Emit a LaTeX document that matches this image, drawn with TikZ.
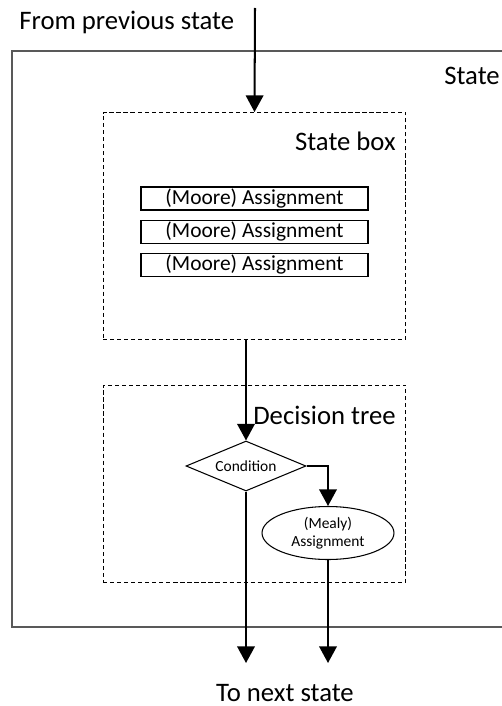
\documentclass[tikz,border=0pt]{standalone}
\usepackage{fontspec}
\setmainfont{Carlito}
\usetikzlibrary{arrows.meta, positioning, shapes.geometric}

\begin{document}
\begin{tikzpicture}[
  x=0.02cm, y=-0.02cm,
  node distance=0.18cm,
  flow/.style={-{Triangle[width=10pt, length=9.5pt]}, line width=1.15pt},
  outerbox/.style={draw=black!65, line width=1.1pt},
  group/.style={rectangle, draw, dashed, dash pattern=on 2.4pt off 1.6pt,
                line width=0.55pt, inner sep=0pt},
  abox/.style={rectangle, draw, line width=0.6pt, minimum width=4.54cm,
               minimum height=0.46cm, inner sep=0pt, font=\fontsize{12.2}{14}\selectfont},
  cond/.style={diamond, draw, aspect=2.4, line width=0.6pt, minimum width=2.4cm,
               minimum height=1cm, inner sep=0pt, font=\fontsize{8.8}{10}\selectfont},
  mealy/.style={ellipse, draw, line width=0.6pt, minimum width=2.64cm,
                minimum height=1.06cm, inner sep=0pt, align=center,
                font=\fontsize{8.8}{10.5}\selectfont},
  biglabel/.style={font=\fontsize{15.2}{18}\selectfont, inner sep=0pt},
]

\path[use as bounding box, clip] (0,0) rectangle (502,706);

% ---- frames ----
\draw[outerbox] (12,51) rectangle (560,627);
\node[biglabel, anchor=west] (statelbl) at (444,76) {State};

\node[group, minimum width=6.06cm, minimum height=4.54cm] (statebox) at (254.5,226) {};
\node[biglabel, anchor=east] (stateboxlbl) at (396,141) {State box};

\node[group, minimum width=6.06cm, minimum height=3.94cm] (dectree) at (254.5,483.5) {};
\node[biglabel, anchor=east] (dectreelbl) at (396,415) {Decision tree};

% ---- nodes ----
\node[abox] (moore1) at (254.5,198.5) {(Moore) Assignment};
\node[abox, below=of moore1] (moore2) {(Moore) Assignment};
\node[abox, below=of moore2] (moore3) {(Moore) Assignment};

\node[cond] (cond) at (246,466) {Condition};
\node[mealy] (mealy) at (328,533) {(Mealy)\\Assignment};

\coordinate (entry) at (255,8);
\coordinate (exit) at (0,663);
\node[biglabel, anchor=west] (fromlbl) at (19,22) {From previous state};
\node[biglabel] (tolbl) at (285,693) {To next state};

% ---- connectors ----
\draw[flow] (entry) -- (statebox.north);
\draw[flow] (statebox.south -| cond.north) -- (cond.north);
\draw[flow] (cond.east) -| (mealy.north);
\draw[flow] (cond.south) -- (cond.south |- exit);
\draw[flow] (mealy.south) -- (mealy.south |- exit);

\end{tikzpicture}
\end{document}
